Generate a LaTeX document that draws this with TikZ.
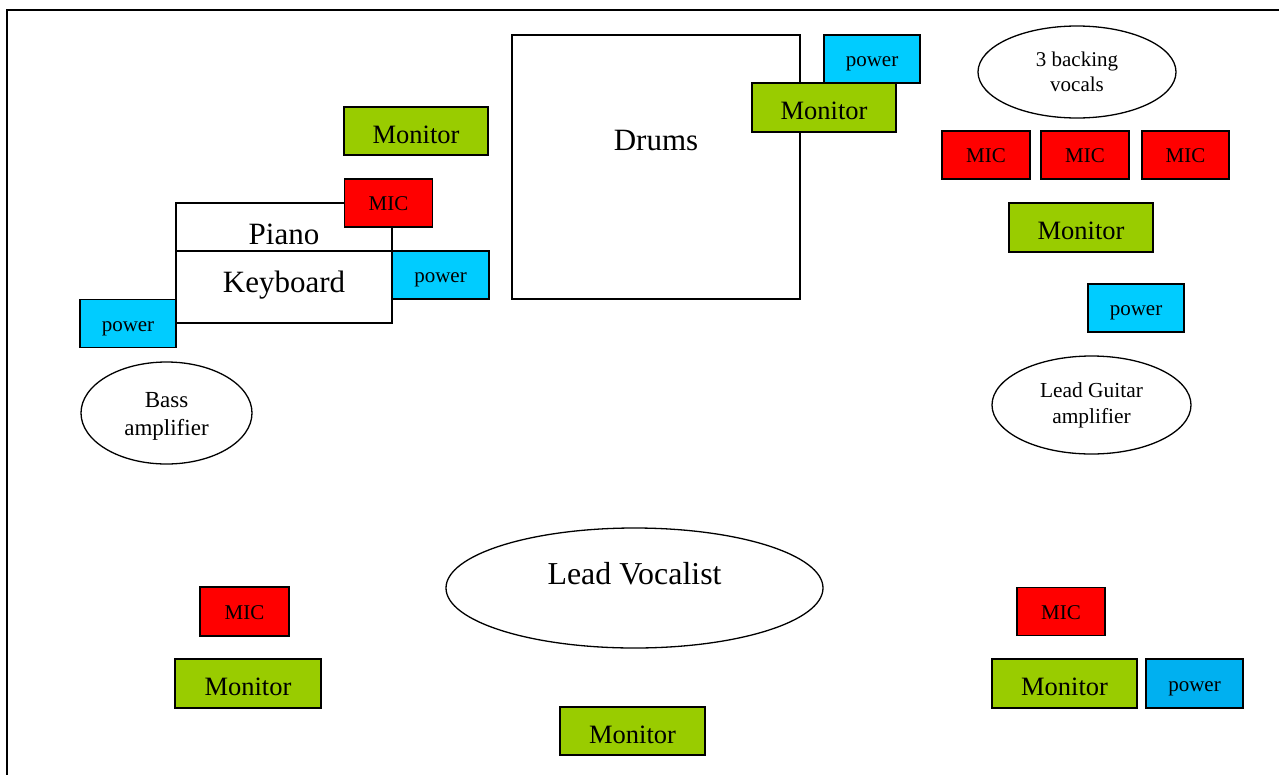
\documentclass[tikz,border=0pt]{standalone}
\usepackage{fontspec}
\setmainfont{Liberation Serif}
\usetikzlibrary{shapes.geometric}
\definecolor{mongreen}{HTML}{99CC00}
\definecolor{micred}{HTML}{FF0000}
\definecolor{powcyan}{HTML}{00CCFF}
\definecolor{powblue}{HTML}{00B0F0}
\tikzset{
  box/.style={draw=black, line width=1.3pt, rectangle, inner sep=0pt, text=black},
  monbox/.style={box, fill=mongreen, minimum width=144pt, minimum height=48pt, font=\fontsize{26.5}{30}\selectfont, text height=25pt, text depth=1pt},
  micbox/.style={box, fill=micred, minimum width=88pt, minimum height=48pt, font=\fontsize{21}{24}\selectfont, text height=18pt, text depth=3pt},
  powbox/.style={box, fill=powcyan, minimum width=96pt, minimum height=48pt, font=\fontsize{21}{24}\selectfont, text height=18pt, text depth=3pt},
  plainbox/.style={box, fill=white},
  oval/.style={draw=black, line width=1.3pt, ellipse, inner sep=0pt, fill=white, align=center},
  frameline/.style={draw=black, line width=2pt}
}
\begin{document}
\begin{tikzpicture}[x=1pt,y=-1pt]
\useasboundingbox (0,0) rectangle (1279,774);
\fill[white] (0,0) rectangle (1279,774);
\coordinate (fa) at (7,780);
\coordinate (fb) at (7,10);
\coordinate (fc) at (1285,10);
\draw[frameline] (fa) -- (fb) -- (fc);

% Keyboard area
\node[monbox] (monkb) at (416,131) {Monitor};
\node[plainbox, minimum width=216pt, minimum height=48pt,
      label={[yshift=-7pt,font=\fontsize{31}{34}\selectfont]center:Piano}] (piano) at (284,227) {};
\node[plainbox, minimum width=216pt, minimum height=72pt,
      label={[yshift=2pt,font=\fontsize{31}{34}\selectfont]center:Keyboard}] (keyboard) at (284,287) {};
\node[micbox] (mickb) at (388.5,203) {MIC};
\node[powbox, minimum width=97pt] (powkb) at (440.5,275) {power};
\node[powbox] (powbass) at (128,323.5) {power};
\node[oval, minimum width=171pt, minimum height=102pt,
      label={[yshift=-3pt,align=center,font=\fontsize{23}{28}\selectfont]center:Bass\\amplifier}] (bass) at (166.5,413) {};

% Drums
\node[plainbox, minimum width=288pt, minimum height=264pt,
      label={[yshift=27pt,font=\fontsize{31}{34}\selectfont]center:Drums}] (drums) at (656,167) {};
\node[powbox] (powdr) at (872,59) {power};
\node[monbox, minimum height=49pt] (mondr) at (824,107.5) {Monitor};

% Backing vocals
\node[oval, minimum width=198pt, minimum height=92pt, font=\fontsize{21}{25}\selectfont] (backing) at (1077,72) {3 backing\\vocals};
\node[micbox] (micb1) at (986,155) {MIC};
\node[micbox] (micb2) at (1085,155) {MIC};
\node[micbox, minimum width=87pt] (micb3) at (1185.5,155) {MIC};
\node[monbox, minimum height=49pt] (monb) at (1081,227.5) {Monitor};

% Lead guitar
\node[powbox] (powg) at (1136,308) {power};
\node[oval, minimum width=199pt, minimum height=98pt, font=\fontsize{21.4}{26}\selectfont] (guitar) at (1091.5,405) {Lead Guitar\\amplifier};

% Lead vocalist
\node[oval, minimum width=377pt, minimum height=120pt,
      label={[yshift=14pt,font=\fontsize{31.9}{35}\selectfont]center:Lead Vocalist}] (vocal) at (634.5,588) {};

% Bottom left
\node[micbox, minimum width=89pt, minimum height=49pt] (micl) at (244.5,611.5) {MIC};
\node[monbox, minimum width=146pt, minimum height=49pt] (monl) at (248,683.5) {Monitor};

% Bottom centre
\node[monbox, minimum width=145pt] (monc) at (632.5,731) {Monitor};

% Bottom right
\node[micbox] (micr) at (1061,611.5) {MIC};
\node[monbox, minimum width=145pt, minimum height=49pt] (monr) at (1064.5,683.5) {Monitor};
\node[powbox, fill=powblue, minimum width=97pt, minimum height=49pt] (powr) at (1194.5,683.5) {power};
\end{tikzpicture}
\end{document}
